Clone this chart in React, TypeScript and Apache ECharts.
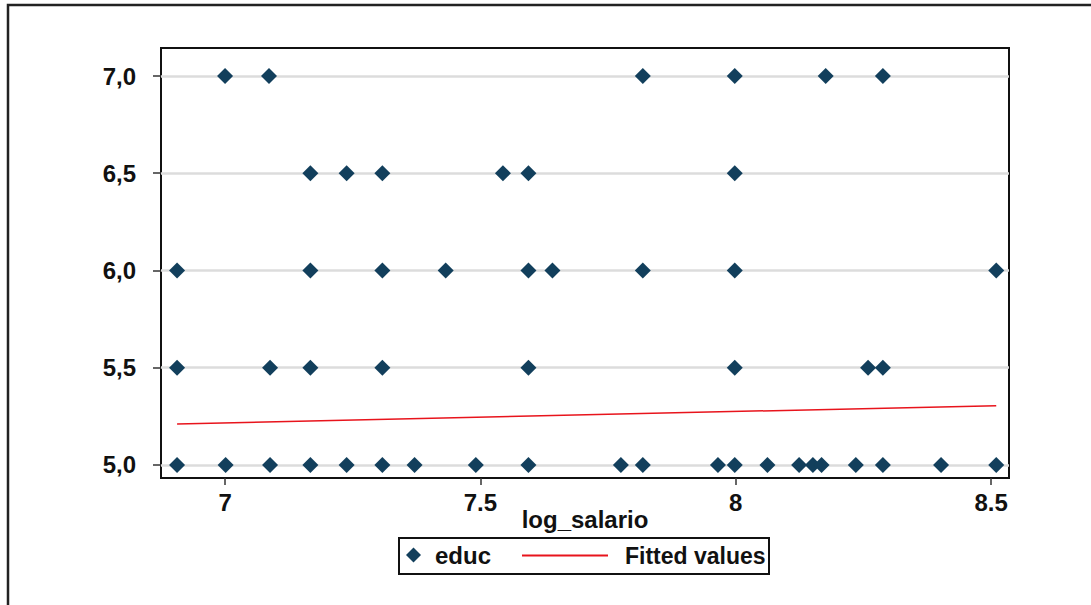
import React, { useEffect, useRef } from "react";
import * as echarts from "echarts";

const xTicks = [7, 7.5, 8, 8.5];
const yTicks = [5, 5.5, 6, 6.5, 7];

const logSalario7 = [7.0, 7.086, 7.818, 7.998, 8.176, 8.288];
const logSalario65 = [7.167, 7.238, 7.308, 7.544, 7.594, 7.998];
const logSalario6 = [6.906, 7.167, 7.308, 7.432, 7.594, 7.641, 7.818, 7.998, 8.51];
const logSalario55 = [6.906, 7.088, 7.167, 7.308, 7.594, 7.998, 8.259, 8.288];
const logSalario5 = [
  6.906, 7.001, 7.088, 7.167, 7.238, 7.308, 7.371, 7.491, 7.594, 7.775, 7.818,
  7.965, 7.998, 8.062, 8.124, 8.151, 8.168, 8.235, 8.288, 8.402, 8.51,
];
const educLevels = [7, 6.5, 6, 5.5, 5];

const fittedX = [6.906, 8.51];
const fittedY = [5.211, 5.305];

const FONT = "'Liberation Sans', Arial, sans-serif";
const NAVY = "#123f5c";
const FS = 24;

export default function App() {
  const ref = useRef<HTMLDivElement>(null);
  useEffect(() => {
    if (!ref.current) return;
    const chart = echarts.init(ref.current, null, { renderer: "svg" });
    const groups = [logSalario7, logSalario65, logSalario6, logSalario55, logSalario5];
    const scatterData: number[][] = [];
    groups.forEach((g, i) => g.forEach((x) => scatterData.push([x, educLevels[i]])));
    const fitData = fittedX.map((x, i) => [x, fittedY[i]]);

    chart.setOption({
      animation: false,
      backgroundColor: "#ffffff",
      textStyle: { fontFamily: FONT },
      grid: {
        left: 161,
        top: 48,
        right: 82,
        bottom: 127,
        show: true,
        borderColor: "#111",
        borderWidth: 2,
        backgroundColor: "transparent",
      },
      xAxis: {
        type: "value",
        min: 6.8745,
        max: 8.535,
        name: "log_salario",
        nameLocation: "middle",
        nameGap: 29,
        nameMoveOverlap: false,
        nameTextStyle: { fontFamily: FONT, fontWeight: "bold", fontSize: FS, color: "#111" },
        axisLine: { show: false },
        splitLine: { show: false },
        axisTick: {
          show: true,
          customValues: xTicks,
          length: 7,
          lineStyle: { color: "#333", width: 1.5 },
        },
        axisLabel: {
          customValues: xTicks,
          margin: 12,
          fontFamily: FONT,
          fontWeight: "bold",
          fontSize: FS,
          color: "#111",
          formatter: (v: number) => String(v),
        },
      },
      yAxis: {
        type: "value",
        min: 4.933,
        max: 7.144,
        axisLine: { show: false },
        splitLine: { show: true, lineStyle: { color: "#dcdcdc", width: 2.5 } },
        axisTick: {
          show: true,
          customValues: yTicks,
          length: 8,
          lineStyle: { color: "#333", width: 1.5 },
        },
        axisLabel: {
          customValues: yTicks,
          margin: 25,
          fontFamily: FONT,
          fontWeight: "bold",
          fontSize: FS,
          color: "#111",
          formatter: (v: number) => v.toFixed(1).replace(".", ","),
        },
      },
      legend: [
        {
          left: 406,
          top: 543,
          padding: 0,
          itemWidth: 15,
          itemHeight: 15,
          data: [{ name: "educ", icon: "diamond" }],
          textStyle: {
            fontFamily: FONT,
            fontWeight: "bold",
            fontSize: FS,
            color: "#111",
            padding: [0, 0, 0, 9],
          },
          selectedMode: false,
        },
        {
          left: 522,
          top: 544,
          padding: 0,
          itemWidth: 86,
          itemHeight: 2,
          data: [{ name: "Fitted values", icon: "rect" }],
          textStyle: {
            fontFamily: FONT,
            fontWeight: "bold",
            fontSize: 23,
            color: "#111",
            padding: [0, 0, 0, 12],
          },
          selectedMode: false,
        },
      ],
      graphic: [
        {
          type: "rect",
          shape: { x: 8, y: 5, width: 1200, height: 800 },
          style: { fill: "none", stroke: "#222", lineWidth: 2.5 },
          silent: true,
        },
        {
          type: "rect",
          shape: { x: 399, y: 538, width: 370, height: 36 },
          style: { fill: "none", stroke: "#111", lineWidth: 2 },
          silent: true,
        },
      ],
      series: [
        {
          name: "educ",
          type: "scatter",
          symbol: "diamond",
          symbolSize: 16,
          itemStyle: { color: NAVY, opacity: 1 },
          data: scatterData,
          z: 3,
        },
        {
          name: "Fitted values",
          type: "line",
          symbol: "none",
          showSymbol: false,
          lineStyle: { color: "#e8141c", width: 1.5 },
          itemStyle: { color: "#e8141c" },
          data: fitData,
          z: 4,
        },
      ],
    });
    return () => chart.dispose();
  }, []);
  return (
    <div
      ref={ref}
      style={{ position: "absolute", left: 0, top: 0, width: 1091, height: 605, background: "#fff" }}
    />
  );
}
